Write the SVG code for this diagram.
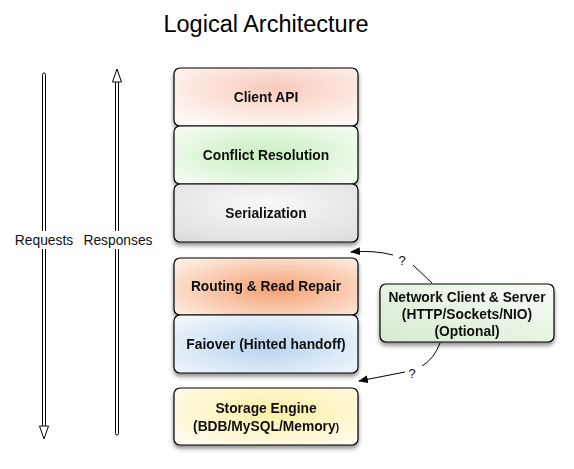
<svg xmlns="http://www.w3.org/2000/svg" width="574" height="469" viewBox="0 0 574 469">
<style>
.box{stroke:#000;stroke-width:1.2}
.lbl{font-family:"Liberation Sans",Arial,sans-serif;font-weight:bold;font-size:13.8px;text-anchor:middle;fill:#111}
.side{font-family:"Liberation Sans",Arial,sans-serif;font-size:13.8px;text-anchor:middle;fill:#111}
.q{font-family:"Liberation Sans",Arial,sans-serif;font-size:13px;text-anchor:middle;fill:#111}
.title{font-family:"Liberation Sans",Arial,sans-serif;font-size:23.5px;text-anchor:middle;fill:#000}
.shaft{fill:#fff;stroke:#000;stroke-width:1}
.head{fill:#fff;stroke:#000;stroke-width:1}
.conn{fill:none;stroke:#000;stroke-width:1}
</style>
<defs>
<filter id="sh" x="-10%" y="-10%" width="125%" height="140%">
<feDropShadow dx="0" dy="3" stdDeviation="2.2" flood-color="#000" flood-opacity="0.45"/>
</filter>
<radialGradient id="gClient" cx="0.55" cy="0.35" r="0.7">
<stop offset="0" stop-color="#f9cabb"/><stop offset="1" stop-color="#fef8f5"/>
</radialGradient>
<radialGradient id="gConf" cx="0.5" cy="0.5" r="0.7">
<stop offset="0" stop-color="#c6efbe"/><stop offset="1" stop-color="#f8fcf6"/>
</radialGradient>
<radialGradient id="gSer" cx="0.5" cy="0.35" r="0.75">
<stop offset="0" stop-color="#f9f9f9"/><stop offset="1" stop-color="#dedede"/>
</radialGradient>
<radialGradient id="gRout" cx="0.55" cy="0.55" r="0.7">
<stop offset="0" stop-color="#f5a070"/><stop offset="1" stop-color="#fdeee4"/>
</radialGradient>
<radialGradient id="gFail" cx="0.5" cy="0.55" r="0.7">
<stop offset="0" stop-color="#b8d3ef"/><stop offset="1" stop-color="#f4f8fc"/>
</radialGradient>
<radialGradient id="gStor" cx="0.55" cy="0.4" r="0.7">
<stop offset="0" stop-color="#fdeea2"/><stop offset="1" stop-color="#fffcee"/>
</radialGradient>
<linearGradient id="gNet" x1="0" y1="1" x2="1" y2="0">
<stop offset="0" stop-color="#d6ead0"/><stop offset="1" stop-color="#f8fcf6"/>
</linearGradient>
<marker id="ah" markerWidth="10" markerHeight="8" refX="9" refY="4" orient="auto" markerUnits="userSpaceOnUse">
<path d="M0,0 L10,4 L0,8 z" fill="#000"/>
</marker>
</defs>

<text class="title" x="266" y="32">Logical Architecture</text>

<g id="connectors">
<g id="requests">
<rect class="shaft" x="42.5" y="73" width="3" height="354" rx="1.5"/>
<polygon class="head" points="39.5,426 48.5,426 44,439"/>
<rect x="14" y="231" width="62" height="18" fill="#fff"/>
<text class="side" x="44" y="245">Requests</text>
</g>
<g id="responses">
<rect class="shaft" x="115.5" y="81" width="3" height="354" rx="1.5"/>
<polygon class="head" points="112.5,82 121.5,82 117,69"/>
<rect x="82" y="231" width="72" height="18" fill="#fff"/>
<text class="side" x="118" y="245">Responses</text>
</g>
<g id="net-upper">
<path class="conn" d="M432,283 L413,265"/>
<text class="q" x="402" y="265">?</text>
<path class="conn" d="M393,255 Q374,250 351,252" marker-end="url(#ah)"/>
</g>
<g id="net-lower">
<path class="conn" d="M440,343 Q434,359 422,366"/>
<text class="q" x="412" y="378">?</text>
<path class="conn" d="M405,372 L359,381" marker-end="url(#ah)"/>
</g>
</g>

<g id="upper-stack" filter="url(#sh)">
<g id="client-api">
<rect class="box" x="174" y="68" width="184" height="58" rx="6" fill="url(#gClient)"/>
<text class="lbl" x="266" y="102">Client API</text>
</g>
<g id="conflict-resolution">
<rect class="box" x="174" y="126" width="184" height="58" rx="6" fill="url(#gConf)"/>
<text class="lbl" x="266" y="160">Conflict Resolution</text>
</g>
<g id="serialization">
<rect class="box" x="174" y="184" width="184" height="58" rx="6" fill="url(#gSer)"/>
<text class="lbl" x="266" y="218">Serialization</text>
</g>
</g>

<g id="middle-stack" filter="url(#sh)">
<g id="routing">
<rect class="box" x="174" y="258" width="184" height="57" rx="6" fill="url(#gRout)"/>
<text class="lbl" x="266" y="291">Routing &amp; Read Repair</text>
</g>
<g id="failover">
<rect class="box" x="174" y="315" width="184" height="58" rx="6" fill="url(#gFail)"/>
<text class="lbl" x="266" y="349">Faiover (Hinted handoff)</text>
</g>
</g>

<g id="storage-engine" filter="url(#sh)">
<rect class="box" x="174" y="388" width="184" height="57" rx="6" fill="url(#gStor)"/>
<text class="lbl" x="266" y="413">Storage Engine</text>
<text class="lbl" x="266" y="431">(BDB/MySQL/Memory<tspan font-size="10px">)</tspan></text>
</g>

<g id="network" filter="url(#sh)">
<rect class="box" x="380" y="284" width="174" height="58" rx="6" fill="url(#gNet)"/>
<text class="lbl" x="467" y="302">Network Client &amp; Server</text>
<text class="lbl" x="467" y="319">(HTTP/Sockets/NIO)</text>
<text class="lbl" x="467" y="336">(Optional)</text>
</g>
</svg>
